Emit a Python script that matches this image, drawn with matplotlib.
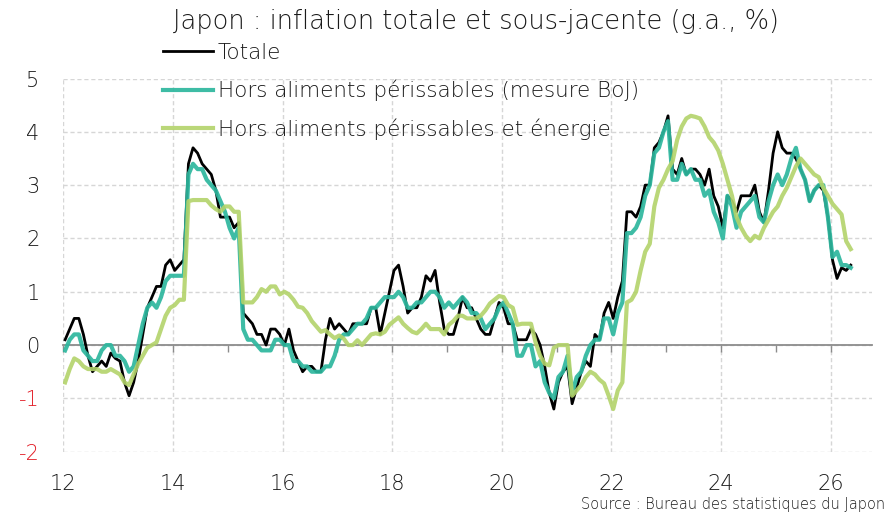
import matplotlib
matplotlib.use("Agg")
import matplotlib.pyplot as plt
import numpy as np

plt.rcParams['font.family'] = ['DejaVu Sans']
plt.rcParams['font.weight'] = 'light'

# ---- data: monthly y/y %, Jan 2012 -> May 2026 ----
totale = [
    0.1, 0.3, 0.5, 0.5, 0.2, -0.2, -0.5, -0.4, -0.3, -0.4, -0.15, -0.25,   # 2012
    -0.3, -0.7, -0.95, -0.7, -0.3, 0.2, 0.7, 0.9, 1.1, 1.1, 1.5, 1.6,      # 2013
    1.4, 1.5, 1.6, 3.4, 3.7, 3.6, 3.4, 3.3, 3.2, 2.9, 2.4, 2.4,            # 2014
    2.4, 2.2, 2.3, 0.6, 0.5, 0.4, 0.2, 0.2, 0.0, 0.3, 0.3, 0.2,            # 2015
    0.0, 0.3, -0.1, -0.3, -0.5, -0.4, -0.4, -0.5, -0.5, 0.1, 0.5, 0.3,     # 2016
    0.4, 0.3, 0.2, 0.4, 0.4, 0.4, 0.4, 0.7, 0.7, 0.2, 0.6, 1.0,            # 2017
    1.4, 1.5, 1.1, 0.6, 0.7, 0.7, 0.9, 1.3, 1.2, 1.4, 0.8, 0.3,            # 2018
    0.2, 0.2, 0.5, 0.9, 0.7, 0.7, 0.5, 0.3, 0.2, 0.2, 0.5, 0.8,            # 2019
    0.7, 0.4, 0.4, 0.1, 0.1, 0.1, 0.3, 0.2, 0.0, -0.4, -0.9, -1.2,         # 2020
    -0.7, -0.5, -0.4, -1.1, -0.8, -0.5, -0.3, -0.4, 0.2, 0.1, 0.6, 0.8,    # 2021
    0.5, 0.9, 1.2, 2.5, 2.5, 2.4, 2.6, 3.0, 3.0, 3.7, 3.8, 4.0,            # 2022
    4.3, 3.3, 3.2, 3.5, 3.2, 3.3, 3.3, 3.2, 3.0, 3.3, 2.8, 2.6,            # 2023
    2.2, 2.8, 2.7, 2.5, 2.8, 2.8, 2.8, 3.0, 2.5, 2.3, 2.9, 3.6,            # 2024
    4.0, 3.7, 3.6, 3.6, 3.5, 3.3, 3.1, 2.7, 2.9, 3.0, 2.9, 2.4,            # 2025
    1.6, 1.25, 1.45, 1.4, 1.5,                                             # 2026
]
hors_alim = [
    -0.1, 0.1, 0.2, 0.2, -0.1, -0.2, -0.3, -0.3, -0.1, 0.0, 0.0, -0.2,
    -0.2, -0.3, -0.5, -0.4, 0.0, 0.4, 0.7, 0.8, 0.7, 0.9, 1.2, 1.3,
    1.3, 1.3, 1.3, 3.2, 3.4, 3.3, 3.3, 3.1, 3.0, 2.9, 2.7, 2.5,
    2.2, 2.0, 2.2, 0.3, 0.1, 0.1, 0.0, -0.1, -0.1, -0.1, 0.1, 0.1,
    0.0, 0.0, -0.3, -0.3, -0.4, -0.4, -0.5, -0.5, -0.5, -0.4, -0.4, -0.2,
    0.1, 0.2, 0.2, 0.3, 0.4, 0.4, 0.5, 0.7, 0.7, 0.8, 0.9, 0.9,
    0.9, 1.0, 0.9, 0.7, 0.7, 0.8, 0.8, 0.9, 1.0, 1.0, 0.9, 0.7,
    0.8, 0.7, 0.8, 0.9, 0.8, 0.6, 0.6, 0.5, 0.3, 0.4, 0.5, 0.7,
    0.8, 0.6, 0.4, -0.2, -0.2, 0.0, 0.0, -0.4, -0.3, -0.7, -0.9, -1.0,
    -0.6, -0.5, -0.2, -0.9, -0.6, -0.5, -0.2, 0.0, 0.1, 0.1, 0.5, 0.5,
    0.2, 0.6, 0.8, 2.1, 2.1, 2.2, 2.4, 2.8, 3.0, 3.6, 3.7, 4.0,
    4.2, 3.1, 3.1, 3.4, 3.2, 3.3, 3.1, 3.1, 2.8, 2.9, 2.5, 2.3,
    2.0, 2.8, 2.6, 2.2, 2.5, 2.6, 2.7, 2.8, 2.4, 2.3, 2.7, 3.0,
    3.2, 3.0, 3.2, 3.5, 3.7, 3.3, 3.1, 2.7, 2.9, 3.0, 3.0, 2.4,
    1.65, 1.75, 1.5, 1.5, 1.45,
]
hors_alim_energie = [
    -0.7, -0.45, -0.25, -0.3, -0.4, -0.45, -0.45, -0.45, -0.5, -0.5, -0.45, -0.5,
    -0.55, -0.7, -0.75, -0.55, -0.35, -0.2, -0.05, 0.0, 0.05, 0.3, 0.55, 0.7,
    0.75, 0.85, 0.85, 2.7, 2.72, 2.72, 2.72, 2.72, 2.62, 2.55, 2.5, 2.6,
    2.6, 2.5, 2.5, 0.8, 0.8, 0.8, 0.9, 1.05, 1.0, 1.1, 1.1, 0.95,
    1.0, 0.95, 0.85, 0.72, 0.7, 0.6, 0.45, 0.35, 0.25, 0.28, 0.2, 0.13,
    0.18, 0.12, 0.0, 0.0, 0.09, 0.0, 0.1, 0.2, 0.22, 0.2, 0.25, 0.38,
    0.45, 0.52, 0.4, 0.32, 0.25, 0.22, 0.3, 0.4, 0.3, 0.3, 0.3, 0.2,
    0.38, 0.45, 0.55, 0.55, 0.5, 0.5, 0.5, 0.55, 0.65, 0.78, 0.85, 0.92,
    0.9, 0.75, 0.7, 0.38, 0.4, 0.4, 0.4, 0.05, -0.2, -0.35, -0.38, -0.05,
    0.0, 0.0, 0.0, -0.95, -0.85, -0.75, -0.6, -0.5, -0.55, -0.65, -0.72, -0.95,
    -1.2, -0.85, -0.7, 0.8, 0.85, 1.0, 1.4, 1.75, 1.9, 2.6, 2.95, 3.1,
    3.3, 3.45, 3.85, 4.1, 4.25, 4.3, 4.28, 4.25, 4.1, 3.9, 3.8, 3.65,
    3.4, 3.1, 2.8, 2.4, 2.2, 2.05, 1.95, 2.05, 2.0, 2.2, 2.35, 2.5,
    2.6, 2.8, 2.95, 3.15, 3.35, 3.5, 3.4, 3.3, 3.2, 3.15, 2.95, 2.8,
    2.65, 2.55, 2.45, 1.95, 1.8,
]
series_labels = ["Totale",
                 "Hors aliments périssables (mesure BoJ)",
                 "Hors aliments périssables et énergie"]
x_tick_values = [12, 14, 16, 18, 20, 22, 24, 26]
x_tick_labels = ["12", "14", "16", "18", "20", "22", "24", "26"]
y_tick_values = [-2, -1, 0, 1, 2, 3, 4, 5]
y_tick_labels = ["-2", "-1", "0", "1", "2", "3", "4", "5"]

x = 12 + (np.arange(len(totale)) + 0.4) / 12.0

W, H = 889, 518
fig = plt.figure(figsize=(W / 100, H / 100), dpi=100)
ax = fig.add_axes([63.3 / W, 1 - 451.7 / H, (871.7 - 63.3) / W, (451.7 - 78.5) / H])

TXT = '#1a1a1a'
l1, = ax.plot(x, totale, color='black', lw=2.0, zorder=3)
l2, = ax.plot(x, hors_alim, color='#2DB79E', lw=3.0, alpha=0.92, zorder=4)
l3, = ax.plot(x, hors_alim_energie, color='#B3D36A', lw=3.0, alpha=0.9, zorder=5)

ax.set_xlim(12, 12 + (871.7 - 63.3) / 54.81)
ax.set_ylim(-2, 5)

ax.set_yticks(y_tick_values)
ax.set_yticklabels(y_tick_labels)
for lab, v in zip(ax.get_yticklabels(), y_tick_values):
    lab.set_color('#E3202A' if v < 0 else TXT)
ax.tick_params(axis='y', length=0, pad=17, labelsize=15)

ax.set_xticks(x_tick_values)
ax.set_xticks(np.arange(13, 27, 2), minor=True)
ax.tick_params(axis='x', which='both', direction='out', length=5, width=1,
               color='#8c8c8c', labelbottom=False)

ax.grid(True, which='major', color='#d6d6d6', linestyle=(0, (3, 2)), linewidth=1)
for s in ['left', 'right', 'top']:
    ax.spines[s].set_visible(False)
ax.spines['bottom'].set_position(('data', 0))
ax.spines['bottom'].set_color('#8c8c8c')
ax.spines['bottom'].set_linewidth(1.3)
ax.spines['bottom'].set_zorder(2)

sec = ax.secondary_xaxis('bottom')
sec.set_xticks(x_tick_values)
sec.set_xticklabels(x_tick_labels)
sec.tick_params(length=0, pad=16, labelsize=15, labelcolor=TXT)
sec.spines['bottom'].set_visible(False)

fig.text(476 / W, 1 - 22 / H, "Japon : inflation totale et sous-jacente (g.a., %)",
         ha='center', va='center', fontsize=18.5, color=TXT)

fig.legend([l1, l2, l3], series_labels, loc='upper left',
           bbox_to_anchor=(163 / W, 1 - 43 / H), frameon=False, fontsize=15.5,
           handlelength=2.3, handletextpad=0.25, labelspacing=0.78,
           borderpad=0, borderaxespad=0, labelcolor=TXT)

fig.text(885 / W, 1 - 505 / H, "Source : Bureau des statistiques du Japon",
         ha='right', va='center', fontsize=10.5, color=TXT)

fig.savefig("out.png", dpi=100)
